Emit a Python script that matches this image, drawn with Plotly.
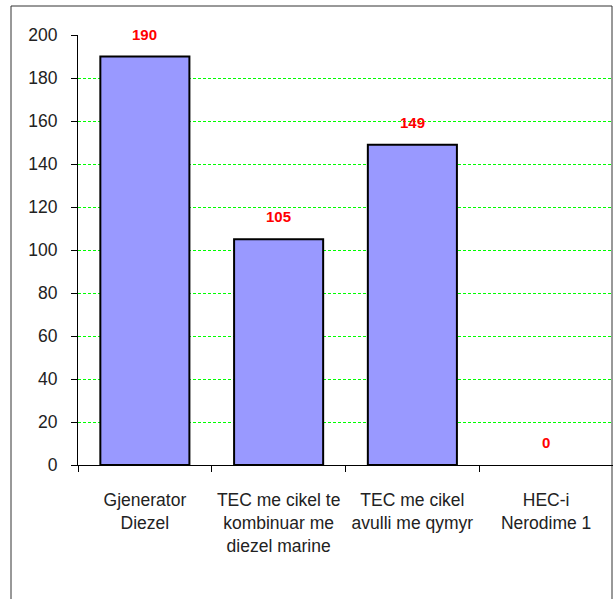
import plotly.graph_objects as go

categories = [
    "Gjenerator<br>Diezel",
    "TEC me cikel te<br>kombinuar me<br>diezel marine",
    "TEC me cikel<br>avulli me qymyr",
    "HEC-i<br>Nerodime 1",
]
values = [190, 105, 149, 0]
y_ticks = [0, 20, 40, 60, 80, 100, 120, 140, 160, 180, 200]

W, H = 613, 599
ML, MR, MT, MB = 78, 0, 35, 134
pw = W - ML - MR
ph = H - MT - MB

fig = go.Figure(
    go.Bar(
        x=categories,
        y=values,
        marker=dict(
            color="#9999FF",
            line=dict(color="#000000", width=[2 if v > 0 else 0 for v in values]),
        ),
        hoverinfo="skip",
    )
)

# value labels above each bar
for c, v in zip(categories, values):
    fig.add_annotation(
        x=c, y=v, text=f"<b>{v}</b>", showarrow=False,
        yanchor="bottom", yshift=12,
        font=dict(family="Liberation Sans, Arial", size=15, color="#FF0000"),
    )

# outer chart frame
fig.add_shape(
    type="rect", xref="paper", yref="paper",
    x0=(11 - ML) / pw, x1=(612 - ML) / pw,
    y0=(H - MB - 605) / ph, y1=1 + (MT - 6) / ph,
    line=dict(color="#333333", width=1), fillcolor="rgba(0,0,0,0)", layer="below",
)

fig.update_layout(
    width=W, height=H,
    margin=dict(l=ML, r=MR, t=MT, b=MB, pad=0),
    paper_bgcolor="white", plot_bgcolor="white",
    bargap=0.334, showlegend=False,
    font=dict(family="Liberation Sans, Arial", size=17.5, color="#222222"),
)
fig.update_yaxes(
    range=[0, 200], tickvals=y_ticks,
    showgrid=True, gridcolor="#00FF00", griddash="3px,2px", gridwidth=1,
    zeroline=False, showline=True, linecolor="#000000", linewidth=1,
    ticks="outside", ticklen=6, tickcolor="#000000",
    tickfont=dict(size=17.5), ticklabelstandoff=10,
)
fig.update_xaxes(
    type="category", tickson="boundaries",
    showgrid=False, showline=True, linecolor="#000000", linewidth=1,
    ticks="outside", ticklen=6, tickcolor="#000000",
    tickfont=dict(size=17.5), tickangle=0, ticklabelstandoff=19,
)

fig.write_html("out.html")
